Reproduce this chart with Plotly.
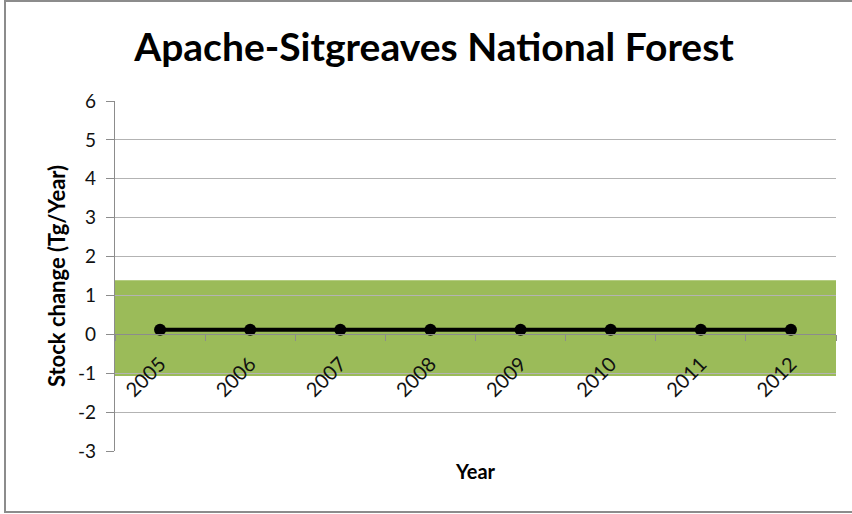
import plotly.graph_objects as go

years = ["2005", "2006", "2007", "2008", "2009", "2010", "2011", "2012"]
stock_change = [0.12, 0.12, 0.12, 0.12, 0.12, 0.12, 0.12, 0.12]
band_upper = 1.39
band_lower = -1.07
y_ticks = [-3, -2, -1, 0, 1, 2, 3, 4, 5, 6]
y_tick_text = ["-3", "-2", "-1", "0", "1", "2", "3", "4", "5", "6"]

W, H = 852, 514
ml, mr, mt, mb = 115, 16, 101, 63
pw, ph = W - ml - mr, H - mt - mb

def px_x(p):
    return (p - ml) / pw

def px_y(p):
    return (H - mb - p) / ph

fig = go.Figure()
fig.add_trace(go.Scatter(
    x=years, y=stock_change, mode="lines+markers",
    line=dict(color="black", width=4),
    marker=dict(color="black", size=12),
    cliponaxis=False, showlegend=False,
))

fig.add_shape(type="rect", xref="paper", yref="y", x0=0, x1=1,
              y0=band_lower, y1=band_upper, fillcolor="#9BBB59",
              line=dict(width=0), layer="between")

# outer chart frame
fig.add_shape(type="rect", xref="paper", yref="paper",
              x0=px_x(5), x1=px_x(860), y0=px_y(512), y1=px_y(1),
              line=dict(color="#8c8c8c", width=2), fillcolor="rgba(0,0,0,0)",
              layer="above")

fig.update_layout(
    width=W, height=H,
    margin=dict(l=ml, r=mr, t=mt, b=mb),
    paper_bgcolor="white", plot_bgcolor="white",
    font=dict(family="Lato", color="#111111"),
    title=dict(text="<b>Apache-Sitgreaves National Forest</b>",
               font=dict(family="Lato", size=39, color="black"),
               x=(434) / W, xanchor="center", y=1 - 47 / H, yanchor="middle"),
    xaxis=dict(type="category", anchor="free", position=1 / 3,
               range=[-0.5, len(years) - 0.5],
               tickson="boundaries", ticks="outside", ticklen=6,
               tickcolor="#8c8c8c", showline=True, linecolor="#8c8c8c",
               linewidth=1.3, showgrid=False, zeroline=False,
               tickangle=-45, ticklabelstandoff=9,
               tickfont=dict(size=20, color="#111111")),
    yaxis=dict(range=[-3, 6], tickvals=y_ticks, ticktext=y_tick_text,
               ticks="outside", ticklen=8,
               tickcolor="#8c8c8c", showline=True, linecolor="#8c8c8c",
               linewidth=1.3, showgrid=True, gridcolor="#b3b3b3",
               gridwidth=1.3, zeroline=False, ticklabelstandoff=6,
               tickfont=dict(size=19, color="#111111"),
               title=dict(text="<b>Stock change (Tg/Year)</b>",
                          font=dict(size=22, color="black"), standoff=6)),
)

fig.add_annotation(text="<b>Year</b>", xref="paper", yref="paper",
                   x=px_x(475), y=px_y(471), xanchor="center",
                   yanchor="middle", showarrow=False,
                   font=dict(size=20, color="black", family="Lato"))

fig.write_html("out.html", config={"displayModeBar": False},
               post_script="document.body.style.margin='0';")
